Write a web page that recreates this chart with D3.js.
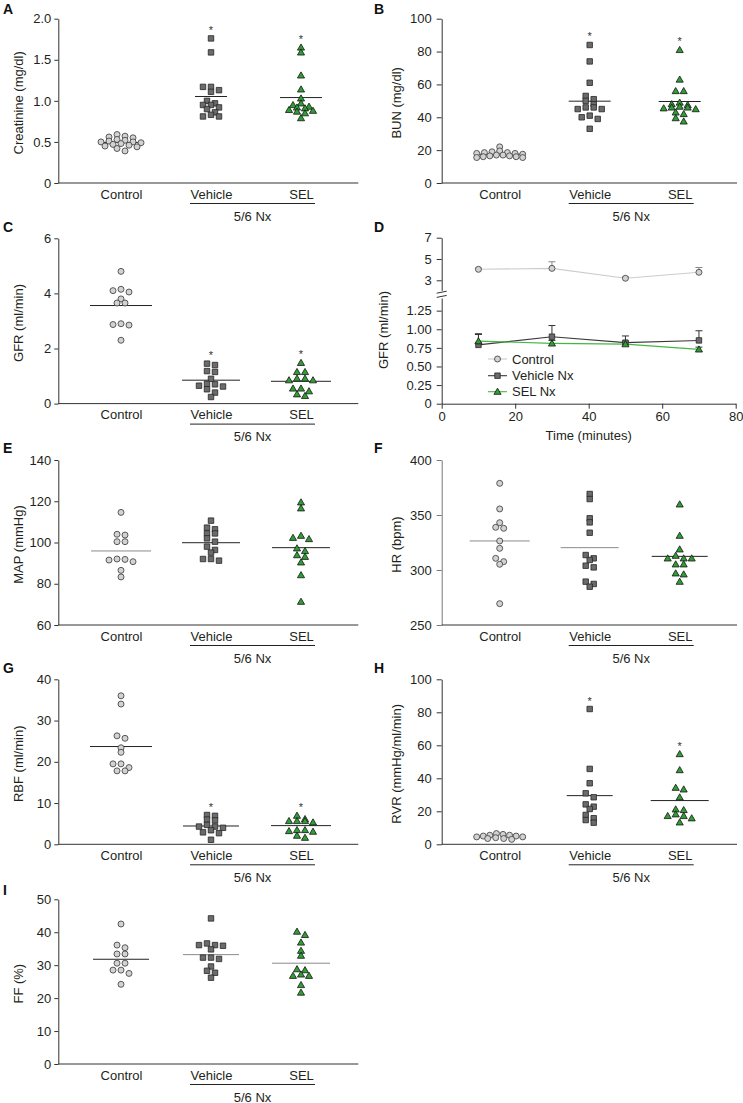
<!DOCTYPE html>
<html><head><meta charset="utf-8">
<script src="https://cdn.jsdelivr.net/npm/d3@7"></script>
<style>
body{margin:0;background:#fff;}
svg{display:block;font-family:Arial,"Liberation Sans",Helvetica,sans-serif;}
</style></head><body>
<svg id="chart" width="743" height="1103"></svg>
<script>
const categories = ["Control","Vehicle","SEL"];

// A Creatinine (mg/dl)
const creatinineControl = [0.59,0.57,0.56,0.55,0.53,0.52,0.51,0.50,0.50,0.49,0.48,0.47,0.46,0.45,0.44,0.42,0.39];
const creatinineVehicle = [1.76,1.59,1.17,1.17,1.13,1.11,1.00,0.97,0.95,0.95,0.92,0.90,0.86,0.83,0.81,0.81];
const creatinineSEL = [1.65,1.59,1.31,1.14,1.03,0.97,0.95,0.93,0.92,0.91,0.89,0.88,0.87,0.85,0.79];
const creatinineMeans = [0.494,1.053,1.04];
const creatinineTicks = [0,0.5,1.0,1.5,2.0];

// B BUN (mg/dl)
const bunControl = [22,19.5,19,18.5,18.5,18,18,17.5,17,17,16.5,16.5,16,16,15.5,15.5];
const bunVehicle = [84,74,61,53,51,50,48,46,46,45,45,41,40,39,33];
const bunSEL = [81,63,56,56,49,48,47.5,46.5,46,46,45.5,45,43,42,39.5,37.5];
const bunMeans = [17.5,49.8,49.6];
const bunTicks = [0,20,40,60,80,100];

// C GFR (ml/min)
const gfrControl = [4.8,4.15,4.05,4.1,3.8,3.65,3.65,2.9,2.85,2.87,2.3];
const gfrVehicle = [1.45,1.40,1.18,1.15,0.90,0.72,0.70,0.65,0.62,0.52,0.40,0.24];
const gfrSEL = [1.48,1.15,1.15,0.91,0.91,0.85,0.85,0.55,0.55,0.45,0.34,0.28];
const gfrMeans = [3.56,0.85,0.81];
const gfrTicks = [0,2,4,6];

// D GFR time course
const timeMinutes = [10,30,50,70];
const tcControlMean = [4.03,4.12,3.19,3.75];
const tcControlErr = [0.10,0.62,0.12,0.45];
const tcVehicleMean = [0.79,0.90,0.82,0.85];
const tcVehicleErr = [0.15,0.15,0.09,0.13];
const tcSELMean = [0.84,0.81,0.80,0.73];
const tcSELErr = [0.09,0.04,0.04,0.03];
const tcSeries = ["Control","Vehicle Nx","SEL Nx"];
const tcTicksX = [0,20,40,60,80];
const tcTicksLow = [0,0.25,0.50,0.75,1.00,1.25];
const tcTicksHigh = [3,5,7];

// E MAP (mmHg)
const mapControl = [114.6,104,103.6,100.4,100.4,92,91.8,91.5,90.7,86.5,83.3];
const mapVehicle = [110.6,107.2,106.4,104.4,104.4,102,100.4,98,96.4,95.1,92,92,91.2];
const mapSEL = [119.5,116.6,103.3,102.3,101.7,97.2,95.9,93.9,93.1,90.4,84.2,71.3];
const mapMeans = [95.9,99.9,97.5];
const mapTicks = [60,80,100,120,140];

// F HR (bpm)
const hrControl = [378.8,355.5,343,338.8,337.9,326.4,319.7,310.6,307.6,305.2,269.4];
const hrVehicle = [369.1,364.5,347,343.3,333.9,313.6,310.6,309.1,303.9,302.4,289.4,287.3,284.8];
const hrSEL = [359.7,331.2,318.8,313,310.6,310.6,310.6,305.2,305.2,297,296.1,289.4];
const hrMeans = [326.4,320.3,312.4];
const hrTicks = [250,300,350,400];

// G RBF (ml/min)
const rbfControl = [36.0,34.0,26.3,25.7,23.4,22.3,19.5,19.5,18.6,17.8,17.8];
const rbfVehicle = [7.1,6.9,6.0,5.8,4.7,4.3,4.3,4.0,3.4,2.9,2.7,1.1];
const rbfSEL = [6.95,6.14,5.66,5.66,5.66,5.33,3.47,3.47,3.23,3.07,2.1,1.6];
const rbfMeans = [23.7,4.44,4.53];
const rbfTicks = [0,10,20,30,40];

// H RVR (mmHg/ml/min)
const rvrControl = [6.5,6.0,5.5,5.5,5.0,5.0,4.5,4.5,4.0,3.5,3.5,3.0];
const rvrVehicle = [82,45.7,37,30.9,28.5,24.2,22.8,21.4,17.8,15.8,14.7,13.1];
const rvrSEL = [54.7,45,34.3,33.3,28.5,21.2,20.8,18.2,17.2,17.2,15.8,13.3];
const rvrMeans = [5.0,29.5,26.5];
const rvrTicks = [0,20,40,60,80,100];

// I FF (%)
const ffControl = [42.5,36.1,35.3,33.4,33.4,30.6,30.6,28.5,28.5,27.5,24.2];
const ffVehicle = [44.2,36.6,36.1,36.1,35.9,34.8,32.3,32.3,31.9,29.6,28.3,27.7,26.2];
const ffSEL = [40.2,39.2,36.9,34.4,32.9,28.8,28.5,27.2,26.8,26.8,24,21.7];
const ffMeans = [31.8,33.2,30.6];
const ffTicks = [0,10,20,30,40,50];

// ---------- layout ----------
const TXT = "#231f20";
const cols = [
  {axisX:58.3, off:[62.7,242.7], end:358.3, titleX:23, letterX:3, tick:4, pad:3},
  {axisX:441.7, off:[58,238], end:737, titleX:401, letterX:374, tick:5, pad:5}
];
const rows = [
  {top:18.7, bottom:183, letterY:14},
  {top:238.3, bottom:403.6, letterY:232},
  {top:460, bottom:625, letterY:453},
  {top:679.3, bottom:844.3, letterY:673},
  {top:899.3, bottom:1064, letterY:895}
];
const GRAY = "#8a8a8a", DARK = "#222";
const fmt1 = d => d === 0 ? "0" : d3.format(".1f")(d);
const fmt0 = d3.format("d");

const panels = [
  {letter:"A", r:0, c:0, title:"Creatinine (mg/dl)", ticks:creatinineTicks, fmt:fmt1,
   groups:[creatinineControl,creatinineVehicle,creatinineSEL], means:creatinineMeans, stars:[0,1,1], half:[21,16,21]},
  {letter:"B", r:0, c:1, title:"BUN (mg/dl)", ticks:bunTicks, fmt:fmt0,
   groups:[bunControl,bunVehicle,bunSEL], means:bunMeans, stars:[0,1,1], half:[21,21,21]},
  {letter:"C", r:1, c:0, title:"GFR (ml/min)", ticks:gfrTicks, fmt:fmt0,
   groups:[gfrControl,gfrVehicle,gfrSEL], means:gfrMeans, stars:[0,1,1], half:[31,29,30]},
  {letter:"E", r:2, c:0, title:"MAP (mmHg)", ticks:mapTicks, fmt:fmt0,
   groups:[mapControl,mapVehicle,mapSEL], means:mapMeans, stars:[0,0,0], half:[30,29,29], meanColors:[GRAY,DARK,DARK]},
  {letter:"F", r:2, c:1, title:"HR (bpm)", ticks:hrTicks, fmt:fmt0,
   groups:[hrControl,hrVehicle,hrSEL], means:hrMeans, stars:[0,0,0], half:[30,29,28], meanColors:[GRAY,GRAY,DARK], axisColor:"#777"},
  {letter:"G", r:3, c:0, title:"RBF (ml/min)", ticks:rbfTicks, fmt:fmt0,
   groups:[rbfControl,rbfVehicle,rbfSEL], means:rbfMeans, stars:[0,1,1], half:[31,28,30]},
  {letter:"H", r:3, c:1, title:"RVR (mmHg/ml/min)", ticks:rvrTicks, fmt:fmt0,
   groups:[rvrControl,rvrVehicle,rvrSEL], means:rvrMeans, stars:[0,1,1], half:[0,23,29]},
  {letter:"I", r:4, c:0, title:"FF (%)", ticks:ffTicks, fmt:fmt0,
   groups:[ffControl,ffVehicle,ffSEL], means:ffMeans, stars:[0,0,0], half:[28,28,29], meanColors:[DARK,GRAY,GRAY]}
];

const svg = d3.select("#chart");

const markerStyle = [
  {type:"circle", fill:"#d2d2d2", stroke:"#4a4a4a"},
  {type:"square", fill:"#6b6b6b", stroke:"#262626"},
  {type:"triangle", fill:"#2f9e34", stroke:"#151515"}
];
const symSquare = d3.symbol(d3.symbolSquare, 30)();
const symTriangle = d3.symbol(d3.symbolTriangle, 22)();
function drawMarker(g, x, y, k) {
  const m = markerStyle[k];
  if (m.type === "circle") {
    g.append("circle").attr("cx", x).attr("cy", y).attr("r", 3)
      .attr("fill", m.fill).attr("stroke", m.stroke).attr("stroke-width", 0.9);
  } else {
    g.append("path").attr("d", m.type === "square" ? symSquare : symTriangle)
      .attr("transform", `translate(${x},${y + (m.type === "triangle" ? 0.6 : 0)})`)
      .attr("fill", m.fill).attr("stroke", m.stroke).attr("stroke-width", 0.8);
  }
}

// Prism-like dot column: points closer than ~4px vertically share a row, centred side by side
function layoutDots(values, y) {
  const thresh = 4, step = 8, maxSpan = 46;
  const pts = values.map(v => ({v, y: y(v)})).sort((a, b) => a.y - b.y);
  const rowsArr = [];
  let cur = null;
  pts.forEach(p => {
    if (!cur || p.y - cur[0].y > thresh) { cur = [p]; rowsArr.push(cur); }
    else cur.push(p);
  });
  rowsArr.forEach(rw => {
    const n = rw.length;
    const s = n > 1 ? Math.min(step, maxSpan / (n - 1)) : 0;
    const slots = d3.range(n).map(i => i - (n - 1) / 2)
      .sort((a, b) => Math.abs(a) - Math.abs(b) || a - b);
    rw.forEach((p, i) => p.slot = slots[i] * s);
  });
  return pts;
}

function styleAxis(g, color) {
  g.selectAll("path,line").attr("stroke", color || "#333").attr("stroke-width", 1);
  g.selectAll("text").attr("fill", TXT).attr("font-size", 13)
    .attr("font-family", 'Arial,"Liberation Sans",sans-serif');
}

panels.forEach(p => {
  const C = cols[p.c], R = rows[p.r];
  const g = svg.append("g");
  const y = d3.scaleLinear().domain(d3.extent(p.ticks)).range([R.bottom, R.top]);
  const x = d3.scalePoint().domain(categories).range([C.axisX + C.off[0], C.axisX + C.off[1]]);

  const ya = g.append("g").attr("transform", `translate(${C.axisX},0)`)
    .call(d3.axisLeft(y).tickValues(p.ticks).tickFormat(p.fmt).tickSize(C.tick).tickSizeOuter(0).tickPadding(C.pad));
  styleAxis(ya, p.axisColor);

  g.append("line").attr("x1", C.axisX).attr("x2", C.end).attr("y1", R.bottom).attr("y2", R.bottom)
    .attr("stroke", "#333").attr("stroke-width", 1);
  const xa = g.append("g").attr("transform", `translate(0,${R.bottom})`)
    .call(d3.axisBottom(x).tickSize(0).tickPadding(6));
  xa.select(".domain").remove();
  styleAxis(xa);
  xa.selectAll("text").attr("dy", null).attr("y", 15.5);

  const ux1 = x("Vehicle") - 21, ux2 = x("SEL") + 14;
  g.append("line").attr("x1", ux1).attr("x2", ux2).attr("y1", R.bottom + 20.5).attr("y2", R.bottom + 20.5)
    .attr("stroke", "#222").attr("stroke-width", 1);
  g.append("text").attr("x", (ux1 + ux2) / 2).attr("y", R.bottom + 37.5).attr("text-anchor", "middle")
    .attr("font-size", 13).attr("fill", TXT).text("5/6 Nx");

  g.append("text").attr("transform", `translate(${C.titleX},${(R.top + R.bottom) / 2 + 2}) rotate(-90)`)
    .attr("text-anchor", "middle").attr("font-size", 13).attr("fill", TXT).text(p.title);

  g.append("text").attr("x", C.letterX).attr("y", R.letterY).attr("font-size", 14).attr("font-weight", "bold")
    .attr("fill", "#111").text(p.letter);

  p.means.forEach((m, k) => {
    if (!p.half[k]) return;
    const cx = x(categories[k]);
    g.append("line").attr("x1", cx - p.half[k]).attr("x2", cx + p.half[k]).attr("y1", y(m)).attr("y2", y(m))
      .attr("stroke", p.meanColors ? p.meanColors[k] : DARK).attr("stroke-width", 1);
  });

  p.groups.forEach((vals, k) => {
    const cx = x(categories[k]);
    const pts = layoutDots(vals, y);
    const dg = g.append("g");
    pts.forEach(pt => drawMarker(dg, cx + pt.slot, pt.y, k));
    if (p.stars[k]) {
      g.append("text").attr("x", cx).attr("y", y(d3.max(vals)) - 4.5).attr("text-anchor", "middle")
        .attr("font-size", 11).attr("fill", "#333").text("*");
    }
  });
});

// ---------- Panel D ----------
(function () {
  const C = cols[1], R = rows[1];
  const g = svg.append("g");
  const x = d3.scaleLinear().domain([0, 80]).range([C.axisX, 735.7]);
  const yLow = d3.scaleLinear().domain([0, 1.42]).range([403.7, 298]);
  const yHigh = d3.scaleLinear().domain([2.05, 7]).range([290.4, 237.7]);
  const yv = v => v > 2 ? yHigh(v) : yLow(v);

  const xa = g.append("g").attr("transform", `translate(0,${403.7})`)
    .call(d3.axisBottom(x).tickValues(tcTicksX).tickFormat(d3.format("d")).tickSize(5).tickSizeOuter(0).tickPadding(3));
  styleAxis(xa);
  const ya1 = g.append("g").attr("transform", `translate(${C.axisX},0)`)
    .call(d3.axisLeft(yLow).tickValues(tcTicksLow).tickFormat(d => d === 0 ? "0" : d3.format(".2f")(d)).tickSize(5).tickSizeOuter(0).tickPadding(5));
  styleAxis(ya1);
  const ya2 = g.append("g").attr("transform", `translate(${C.axisX},0)`)
    .call(d3.axisLeft(yHigh).tickValues(tcTicksHigh).tickFormat(d3.format("d")).tickSize(5).tickSizeOuter(0).tickPadding(5));
  styleAxis(ya2);
  [[293.2, 291.2], [297.4, 295.4]].forEach(([a, b]) => {
    g.append("line").attr("x1", C.axisX - 5).attr("x2", C.axisX + 5).attr("y1", a).attr("y2", b)
      .attr("stroke", "#333").attr("stroke-width", 1);
  });

  g.append("text").attr("x", (C.axisX + 735.7) / 2).attr("y", 440).attr("text-anchor", "middle")
    .attr("font-size", 13).attr("fill", TXT).text("Time (minutes)");
  g.append("text").attr("transform", `translate(388,${330}) rotate(-90)`).attr("text-anchor", "middle")
    .attr("font-size", 13).attr("fill", TXT).text("GFR (ml/min)");
  g.append("text").attr("x", C.letterX).attr("y", R.letterY).attr("font-size", 14).attr("font-weight", "bold")
    .attr("fill", "#111").text("D");

  const series = [
    {means: tcControlMean, errs: tcControlErr, color: "#cccccc", err: "#888", k: 0},
    {means: tcVehicleMean, errs: tcVehicleErr, color: "#3a3a3a", err: "#333", k: 1},
    {means: tcSELMean, errs: tcSELErr, color: "#45b645", err: "#333", k: 2}
  ];
  const line = d3.line().x((d, i) => x(timeMinutes[i])).y(d => yv(d));
  series.forEach(s => {
    g.append("path").attr("d", line(s.means)).attr("fill", "none").attr("stroke", s.color).attr("stroke-width", 1.1);
  });
  series.forEach(s => {
    s.means.forEach((m, i) => {
      const cx = x(timeMinutes[i]);
      const y0 = yv(m), y1 = yv(m + s.errs[i]);
      g.append("line").attr("x1", cx).attr("x2", cx).attr("y1", y0).attr("y2", y1).attr("stroke", s.err).attr("stroke-width", 1);
      g.append("line").attr("x1", cx - 3.5).attr("x2", cx + 3.5).attr("y1", y1).attr("y2", y1).attr("stroke", s.err).attr("stroke-width", 1);
    });
  });
  series.forEach(s => {
    s.means.forEach((m, i) => drawMarker(g, x(timeMinutes[i]), yv(m), s.k));
  });

  const ly = [359, 375.7, 391.7];
  series.forEach((s, i) => {
    g.append("line").attr("x1", 488).attr("x2", 507).attr("y1", ly[i]).attr("y2", ly[i])
      .attr("stroke", s.color).attr("stroke-width", 1.1);
    drawMarker(g, 497.5, ly[i], s.k);
    g.append("text").attr("x", 512).attr("y", ly[i] + 4.6).attr("font-size", 13).attr("fill", TXT).text(tcSeries[i]);
  });
})();
</script>
</body></html>
